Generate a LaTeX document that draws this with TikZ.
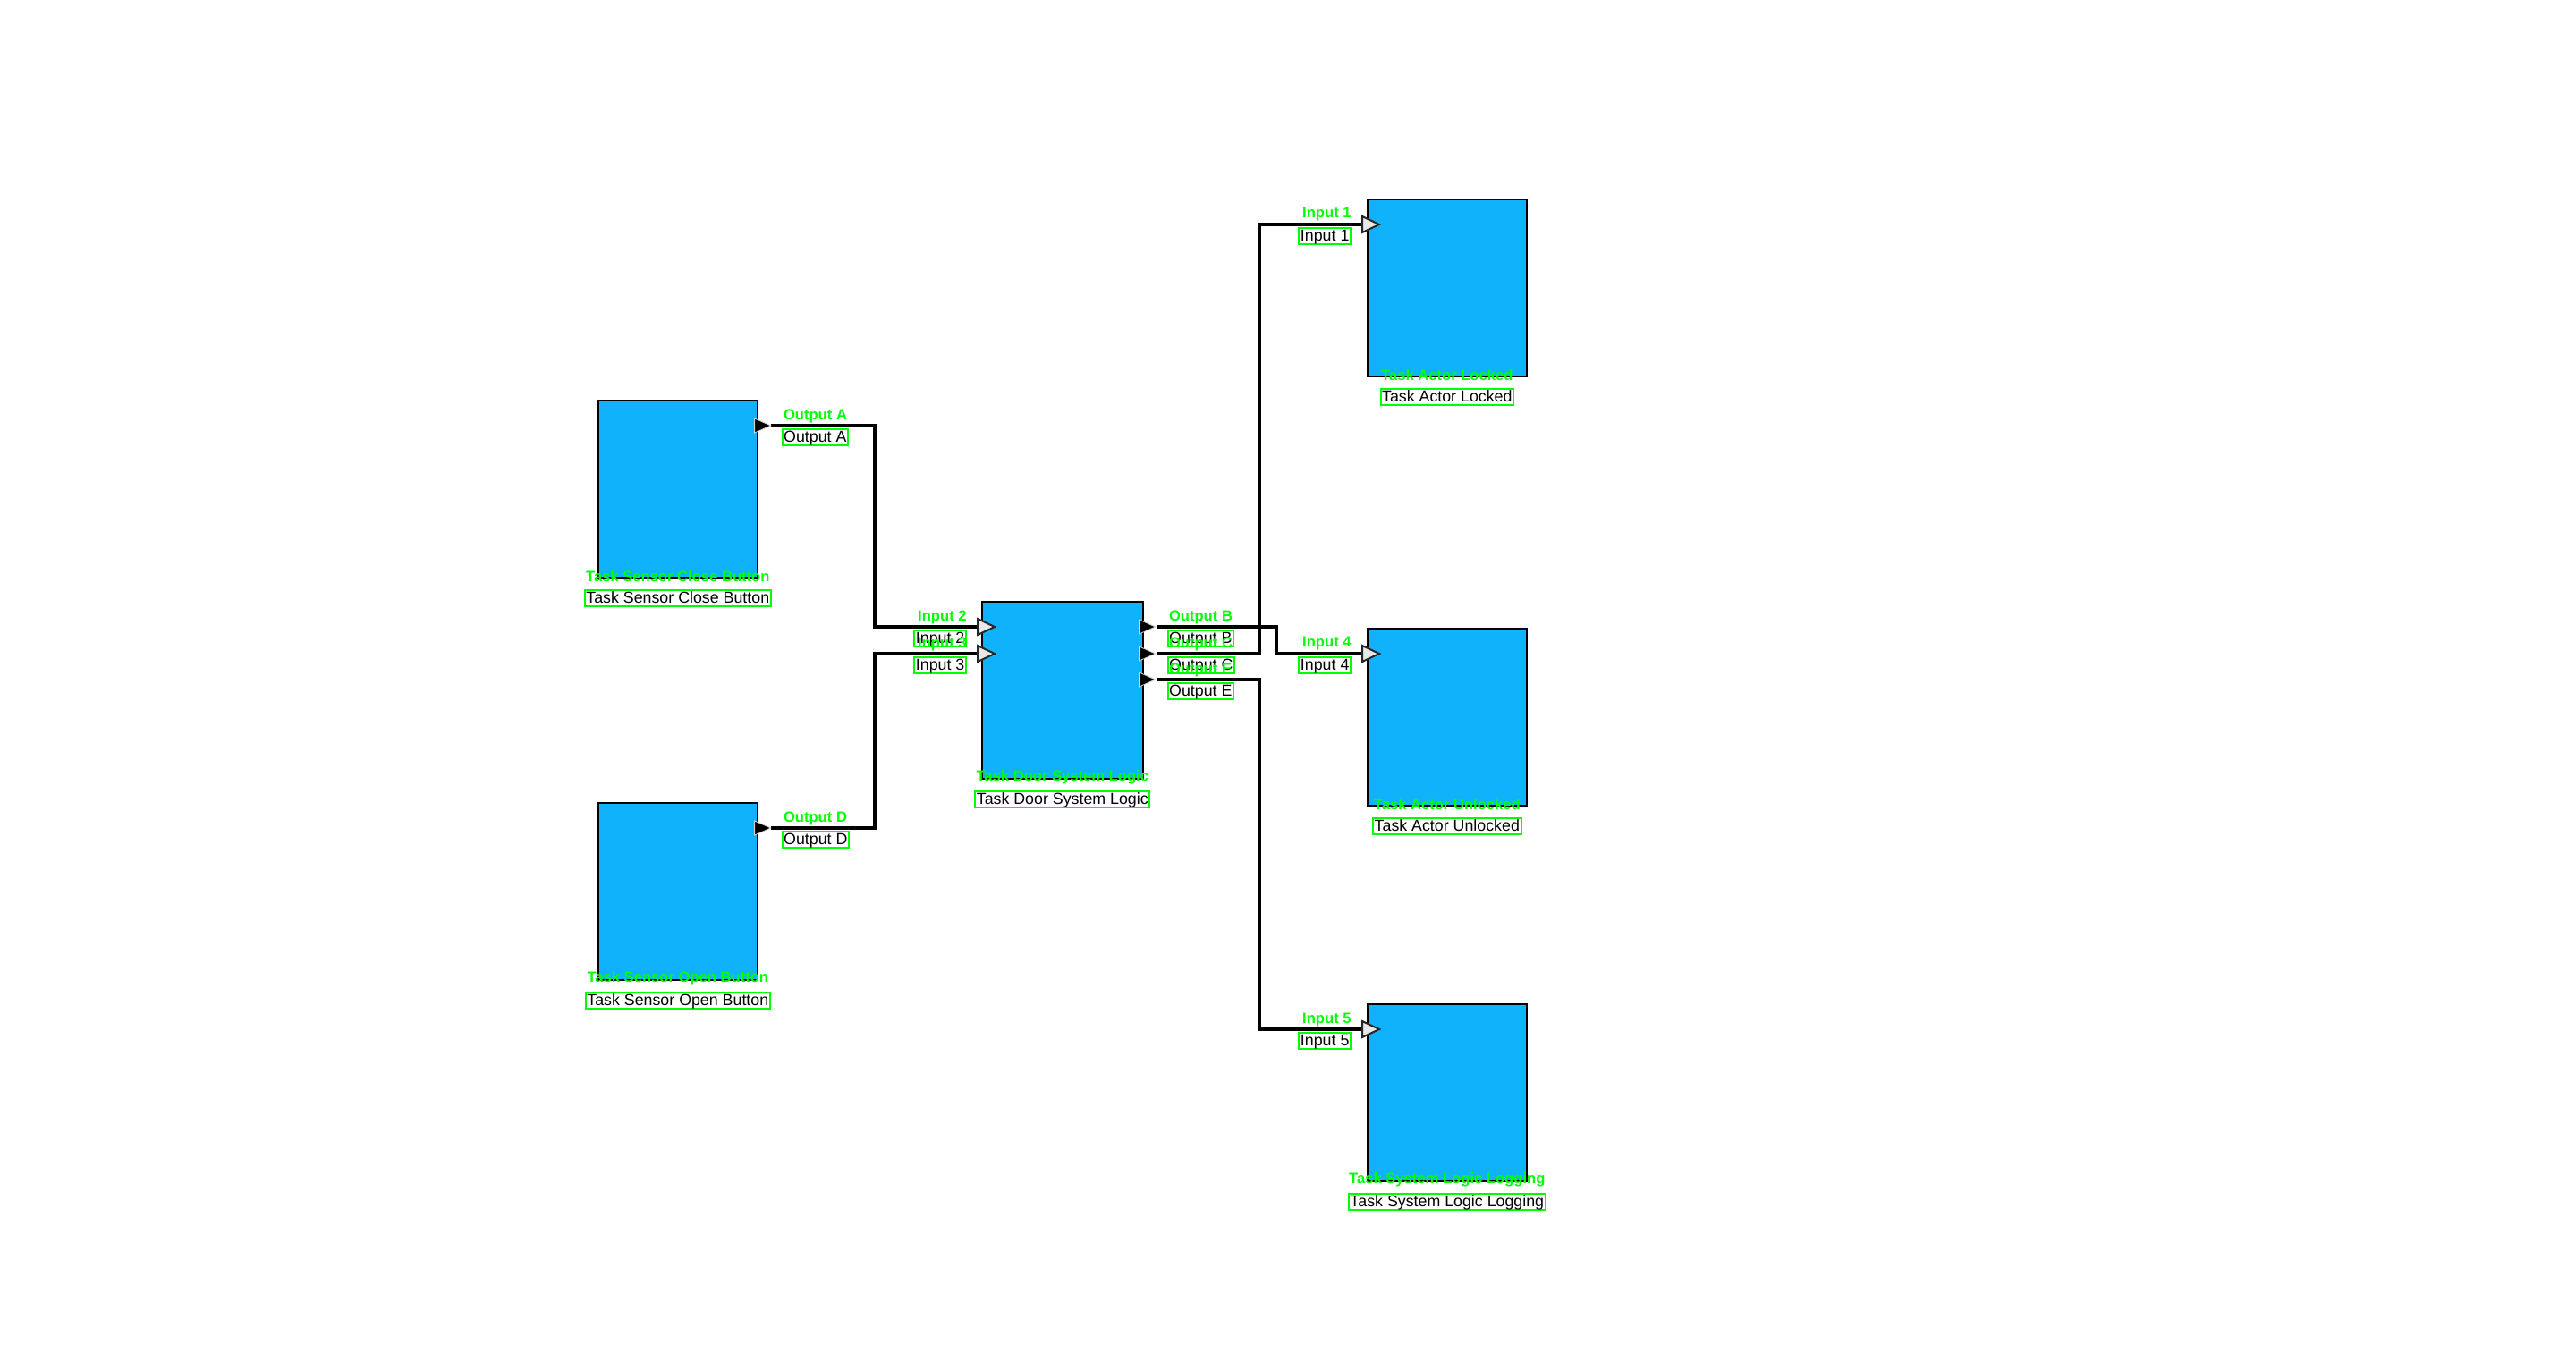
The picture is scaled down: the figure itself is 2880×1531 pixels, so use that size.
\documentclass[tikz,border=0pt]{standalone}
\usepackage{fontspec}
\setmainfont{Liberation Sans}
\usetikzlibrary{calc}
\definecolor{blockblue}{RGB}{17,178,252}
\definecolor{annot}{RGB}{0,255,0}
\definecolor{intri}{RGB}{232,232,232}
\tikzset{
  block/.style={draw=black, line width=0.8pt, fill=blockblue, minimum width=89pt, minimum height=99pt, anchor=north west, inner sep=0pt},
  wire/.style={line width=2pt, black, line join=miter},
  portlbl/.style={draw=annot, line width=1pt, text=black, font=\fontsize{8.9}{9}\selectfont, inner xsep=0.8pt, inner ysep=0.4pt, text height=6.8pt, text depth=1.6pt},
  greenlbl/.style={text=annot, font=\bfseries\fontsize{8.3}{9}\selectfont, inner sep=0pt},
  outtri/.pic={\fill[black, draw=gray!35, line width=0.4pt] (-18,-8) -- (0,0) -- (-18,8) -- cycle;},
  intri/.pic={\filldraw[fill=intri, draw=black!85, line width=1pt, line join=miter] (0,-9) -- (19,0) -- (0,9) -- cycle;}
}
\begin{document}
\begin{tikzpicture}[x=0.5pt, y=-0.5pt]
\fill[white] (0,0) rectangle (2880,1531);
\useasboundingbox (0,0) rectangle (2880,1531);

% blocks
\node[block] (close) at (668,447) {};
\node[block] (open) at (668,897) {};
\node[block, minimum width=90pt] (door) at (1097,672) {};
\node[block] (locked) at (1528,222) {};
\node[block] (unlocked) at (1528,702) {};
\node[block] (logging) at (1528,1122) {};

% ports
\coordinate (closeA) at ($(close.north east)+(14,29)$);
\coordinate (openD) at ($(open.north east)+(14,29)$);
\coordinate (doorB) at ($(door.north east)+(15,29)$);
\coordinate (doorC) at ($(door.north east)+(15,59)$);
\coordinate (doorE) at ($(door.north east)+(15,88)$);
\coordinate (doorIn2) at ($(door.north west)+(-4,29)$);
\coordinate (doorIn3) at ($(door.north west)+(-4,59)$);
\coordinate (lockIn1) at ($(locked.north west)+(-5,29)$);
\coordinate (unlockIn4) at ($(unlocked.north west)+(-5,29)$);
\coordinate (logIn5) at ($(logging.north west)+(-5,29)$);

% connectors
\draw[wire] (closeA) -| ($(doorIn2)+(-115,0)$) -- (doorIn2);
\draw[wire] (openD) -| ($(doorIn3)+(-115,0)$) -- (doorIn3);
\draw[wire] (doorB) -| ($(unlockIn4)+(-96,0)$) -- (unlockIn4);
\draw[wire] (doorC) -| ($(lockIn1)+(-115,0)$) -- (lockIn1);
\draw[wire] (doorE) -| ($(logIn5)+(-115,0)$) -- (logIn5);

% port triangles
\pic at (closeA) {outtri};
\pic at (openD) {outtri};
\pic at ($(doorB)+(-2,0)$) {outtri};
\pic at ($(doorC)+(-2,0)$) {outtri};
\pic at ($(doorE)+(-2,0)$) {outtri};
\pic at (doorIn2) {intri};
\pic at (doorIn3) {intri};
\pic at (lockIn1) {intri};
\pic at (unlockIn4) {intri};
\pic at (logIn5) {intri};

% output port labels
\node[portlbl, anchor=north west] (lA) at ($(close.north east)+(26,32)$) {Output A};
\node[greenlbl, anchor=west] (gA) at ($(close.north east)+(28,18)$) {Output A};
\node[portlbl, anchor=north west] (lD) at ($(open.north east)+(26,32)$) {Output D};
\node[greenlbl, anchor=west] (gD) at ($(open.north east)+(28,18)$) {Output D};
\node[portlbl, anchor=north west] (lB) at ($(door.north east)+(26,32)$) {Output B};
\node[greenlbl, anchor=west] (gB) at ($(door.north east)+(28,18)$) {Output B};
\node[portlbl, anchor=north west] (lC) at ($(door.north east)+(26,62)$) {Output C};
\node[greenlbl, anchor=west] (gC) at ($(door.north east)+(28,48)$) {Output C};
\node[portlbl, anchor=north west] (lE) at ($(door.north east)+(26,91)$) {Output E};
\node[greenlbl, anchor=west] (gE) at ($(door.north east)+(28,77)$) {Output E};

% input port labels
\node[portlbl, anchor=north east] (l2) at ($(door.north west)+(-16,32)$) {Input 2};
\node[greenlbl, anchor=east] (g2) at ($(door.north west)+(-16,18)$) {Input 2};
\node[portlbl, anchor=north east] (l3) at ($(door.north west)+(-16,62)$) {Input 3};
\node[greenlbl, anchor=east] (g3) at ($(door.north west)+(-16,48)$) {Input 3};
\node[portlbl, anchor=north east] (l1) at ($(locked.north west)+(-17,32)$) {Input 1};
\node[greenlbl, anchor=east] (g1) at ($(locked.north west)+(-17,18)$) {Input 1};
\node[portlbl, anchor=north east] (l4) at ($(unlocked.north west)+(-17,32)$) {Input 4};
\node[greenlbl, anchor=east] (g4) at ($(unlocked.north west)+(-17,18)$) {Input 4};
\node[portlbl, anchor=north east] (l5) at ($(logging.north west)+(-17,32)$) {Input 5};
\node[greenlbl, anchor=east] (g5) at ($(logging.north west)+(-17,18)$) {Input 5};

% block labels
\node[greenlbl] (gclose) at ($(close.south)+(0,-2)$) {Task Sensor Close Button};
\node[portlbl, anchor=north] (tclose) at ($(close.south)+(0,12)$) {Task Sensor Close Button};
\node[greenlbl] (gopen) at ($(open.south)+(0,-2)$) {Task Sensor Open Button};
\node[portlbl, anchor=north] (topen) at ($(open.south)+(0,12)$) {Task Sensor Open Button};
\node[greenlbl] (gdoor) at ($(door.south)+(0,-2)$) {Task Door System Logic};
\node[portlbl, anchor=north] (tdoor) at ($(door.south)+(0,12)$) {Task Door System Logic};
\node[greenlbl] (glocked) at ($(locked.south)+(0,-2)$) {Task Actor Locked};
\node[portlbl, anchor=north] (tlocked) at ($(locked.south)+(0,12)$) {Task Actor Locked};
\node[greenlbl] (gunlocked) at ($(unlocked.south)+(0,-2)$) {Task Actor Unlocked};
\node[portlbl, anchor=north] (tunlocked) at ($(unlocked.south)+(0,12)$) {Task Actor Unlocked};
\node[greenlbl] (glogging) at ($(logging.south)+(0,-2)$) {Task System Logic Logging};
\node[portlbl, anchor=north] (tlogging) at ($(logging.south)+(0,12)$) {Task System Logic Logging};
\end{tikzpicture}
\end{document}
